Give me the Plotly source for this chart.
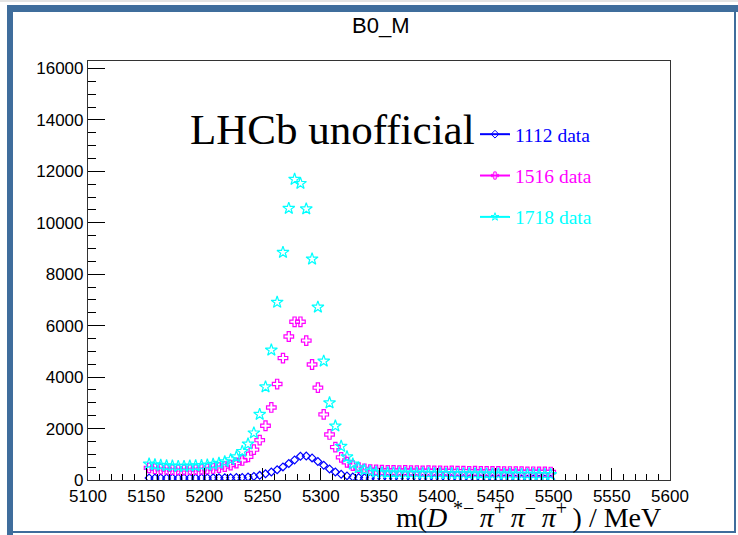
import plotly.graph_objects as go

# ---------------- data ----------------
bin_centers = [5152.5 + 5 * i for i in range(70)]

data_1112 = [80, 75, 80, 75, 80, 75, 80, 80, 75, 80,
             80, 85, 85, 90, 90, 95, 100, 115, 140, 180,
             240, 310, 400, 510, 640, 780, 920, 930, 860, 720,
             570, 430, 310, 220, 160, 120, 95, 85, 75, 65,
             60, 55, 58, 52, 55, 50, 53, 48, 50, 46,
             48, 44, 46, 42, 44, 40, 42, 38, 40, 37,
             39, 35, 37, 34, 36, 33, 35, 32, 34, 31]

data_1516 = [470, 440, 420, 410, 400, 395, 395, 400, 405, 415,
             430, 450, 480, 520, 580, 660, 760, 900, 1180, 1550,
             2110, 2820, 3730, 4740, 5580, 6150, 6150, 5420, 4490, 3590,
             2550, 1770, 1280, 880, 690, 560, 480, 430, 405, 390,
             380, 372, 376, 366, 370, 362, 365, 356, 360, 352,
             355, 347, 350, 343, 346, 338, 341, 334, 336, 330,
             332, 325, 328, 321, 323, 317, 319, 313, 315, 310]

data_1718 = [620, 590, 570, 550, 540, 530, 530, 540, 550, 560,
             580, 610, 650, 710, 790, 900, 1110, 1400, 1830, 2550,
             3620, 5050, 6910, 8850, 10560, 11690, 11530, 10540, 8590, 6720,
             4620, 3000, 2100, 1310, 900, 620, 470, 390, 335, 300,
             285, 278, 275, 268, 272, 262, 266, 258, 261, 252,
             256, 248, 251, 244, 247, 240, 243, 236, 238, 232,
             234, 227, 230, 223, 225, 219, 221, 214, 216, 210]

series_names = ["1112 data", "1516 data", "1718 data"]
series_values = [data_1112, data_1516, data_1718]
series_colors = ["#0000ff", "#ff00ff", "#00ffff"]
series_symbols = ["diamond-open", "cross-open", "star-open"]
series_sizes = [6, 8, 9]

x_tick_vals = [5100, 5150, 5200, 5250, 5300, 5350, 5400, 5450, 5500, 5550, 5600]
x_tick_text = ["5100", "5150", "5200", "5250", "5300", "5350", "5400", "5450", "5500", "5550", "5600"]
y_tick_vals = [0, 2000, 4000, 6000, 8000, 10000, 12000, 14000, 16000]
y_tick_text = ["0", "2000", "4000", "6000", "8000", "10000", "12000", "14000", "16000"]

# ---------------- layout geometry ----------------
W, H = 738, 535
L, R, T, B = 88, 670, 61, 480


def px(xp):
    return (xp - L) / (R - L)


def py(yp):
    return (B - yp) / (B - T)


fig = go.Figure()

for name, vals, col, sym, sz in zip(series_names, series_values, series_colors,
                                    series_symbols, series_sizes):
    fig.add_trace(go.Scatter(
        x=bin_centers, y=vals, mode="markers", showlegend=False,
        marker=dict(symbol=sym, size=sz, color=col, line=dict(color=col, width=1.2)),
    ))

# legend entries (line + marker, ROOT style)
for k, (name, col, sym) in enumerate(zip(series_names, series_colors, series_symbols)):
    fig.add_trace(go.Scatter(
        x=[None], y=[None], mode="lines+markers", legendgroup=f"g{k}",
        name=f'<span style="color:{col}">{name}</span>',
        line=dict(color=col, width=2),
        marker=dict(symbol=sym, size=6, color=col, line=dict(color=col, width=1)),
    ))

axis_font = dict(family="Liberation Sans, Arial, sans-serif", size=17, color="black")

fig.update_xaxes(
    range=[5100, 5600], tickmode="array", tickvals=x_tick_vals, ticktext=x_tick_text,
    ticks="inside", ticklen=12, tickwidth=1, tickcolor="black",
    minor=dict(tickmode="linear", tick0=5100, dtick=10, ticks="inside", ticklen=6,
               tickcolor="black", showgrid=False),
    showgrid=False, zeroline=False, showline=True, linecolor="#333333", linewidth=1.2,
    mirror=True, tickfont=axis_font,
)
fig.update_yaxes(
    range=[0, 16290], tickmode="array", tickvals=y_tick_vals, ticktext=y_tick_text,
    ticks="inside", ticklen=17, tickwidth=1, tickcolor="black",
    minor=dict(tickmode="linear", tick0=0, dtick=500, ticks="inside", ticklen=8,
               tickcolor="black", showgrid=False),
    showgrid=False, zeroline=False, showline=True, linecolor="#333333", linewidth=1.2,
    mirror=True, tickfont=axis_font,
)

blue = "#3f6d9c"
shapes = [
    dict(type="rect", xref="paper", yref="paper", x0=px(0), x1=px(W), y0=py(0), y1=py(2),
         fillcolor="#e4e4e4", line=dict(width=0), layer="above"),
    dict(type="rect", xref="paper", yref="paper", x0=px(7), x1=px(W), y0=py(5), y1=py(12),
         fillcolor=blue, line=dict(width=0), layer="above"),
    dict(type="rect", xref="paper", yref="paper", x0=px(7), x1=px(13), y0=py(5), y1=py(535),
         fillcolor=blue, line=dict(width=0), layer="above"),
    dict(type="rect", xref="paper", yref="paper", x0=px(734), x1=px(736), y0=py(5), y1=py(533),
         fillcolor=blue, line=dict(width=0), layer="above"),
    dict(type="rect", xref="paper", yref="paper", x0=px(7), x1=px(736), y0=py(531), y1=py(533),
         fillcolor=blue, line=dict(width=0), layer="above"),
]

SUP = '<sup><span style="font-size:20px">{}</span></sup>'
x_title = ("m(<i>D</i>\u2009" + SUP.format("*−") + "\u2009<i>π</i>" + SUP.format("+")
           + "\u2009<i>π</i>" + SUP.format("−") + "\u2009<i>π</i>" + SUP.format("+")
           + "\u2009) / MeV")

annotations = [
    dict(text="B0_M", xref="paper", yref="paper", x=px(380), y=py(26),
         xanchor="center", yanchor="middle", showarrow=False,
         font=dict(family="Liberation Sans, Arial, sans-serif", size=22, color="black")),
    dict(text="LHCb unofficial", xref="paper", yref="paper", x=px(188), y=py(129),
         xanchor="left", yanchor="middle", showarrow=False,
         font=dict(family="Liberation Serif, Times New Roman, serif", size=43, color="black")),
    dict(text=x_title,
         xref="paper", yref="paper", x=px(663), y=py(515),
         xanchor="right", yanchor="middle", showarrow=False,
         font=dict(family="Liberation Serif, Times New Roman, serif", size=28, color="black")),
]

fig.update_layout(
    width=W, height=H,
    margin=dict(l=L, r=W - R, t=T, b=H - B, pad=0),
    paper_bgcolor="white", plot_bgcolor="white",
    showlegend=True,
    legend=dict(x=px(475), y=py(115), xanchor="left", yanchor="top",
                bgcolor="rgba(0,0,0,0)", borderwidth=0, tracegroupgap=13,
                traceorder="grouped",
                font=dict(family="Liberation Serif, Times New Roman, serif", size=19.5)),
    shapes=shapes, annotations=annotations,
)

fig.write_html(
    "out.html",
    config={"displayModeBar": False},
    post_script="document.body.style.margin='0px';document.body.style.overflow='hidden';"
                "document.documentElement.style.overflow='hidden';",
)
